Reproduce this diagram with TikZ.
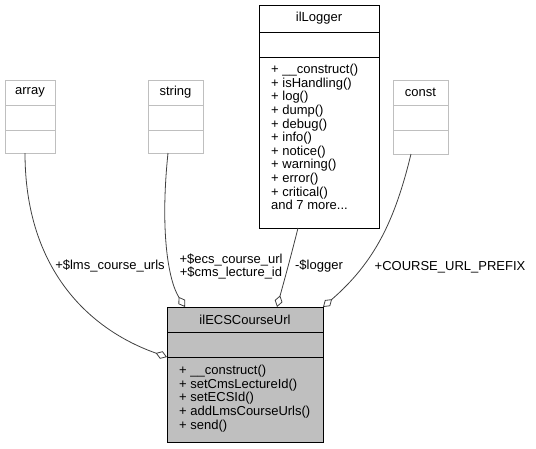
\documentclass[tikz,border=0pt]{standalone}
\usepackage{fontspec}
\setmainfont{Liberation Sans}
\usetikzlibrary{arrows.meta}
\definecolor{boxgray}{HTML}{BFBFBF}
\definecolor{edgegray}{HTML}{404040}
\begin{document}
\begin{tikzpicture}[x=1pt,y=-1pt,
  every node/.style={font=\fontsize{13}{13.6}\selectfont, inner sep=0pt},
  lightbox/.style={draw=boxgray, line width=1pt, anchor=north west},
  darkbox/.style={draw=black, line width=1pt, anchor=north west},
  lightline/.style={draw=boxgray, line width=1pt},
  darkline/.style={draw=black, line width=1pt},
  assoc/.style={draw=edgegray, line width=0.8pt, -{Diamond[open, length=12pt, width=8pt, line width=0.8pt]}},
  members/.style={align=left, anchor=north west}]
\useasboundingbox (0,0) rectangle (536,448);

% array
\node[lightbox, minimum width=50pt, minimum height=73pt] (array) at (5,80) {};
\draw[lightline] (5,105) -- (55,105) (5,130) -- (55,130);
\node (arrayT) at (30,92) {array};

% string
\node[lightbox, minimum width=55pt, minimum height=73pt] (string) at (148,80) {};
\draw[lightline] (148,105) -- (203,105) (148,130) -- (203,130);
\node (stringT) at (175.5,92) {string};

% const
\node[lightbox, minimum width=55pt, minimum height=74pt] (const) at (393,80) {};
\draw[lightline] (393,105) -- (448,105) (393,130) -- (448,130);
\node (constT) at (420.5,92) {const};

% ilLogger
\node[darkbox, minimum width=120pt, minimum height=223pt] (logger) at (259,5) {};
\draw[darkline] (259,32) -- (379,32) (259,57) -- (379,57);
\node (loggerT) at (319,18.5) {ilLogger};
\node[members] (loggerM) at (271,64) {+ \_\_construct()\\+ isHandling()\\+ log()\\+ dump()\\+ debug()\\+ info()\\+ notice()\\+ warning()\\+ error()\\+ critical()\\and 7 more...};

% ilECSCourseUrl
\node[darkbox, fill=boxgray, minimum width=156pt, minimum height=135pt] (ecs) at (167,307) {};
\draw[darkline] (167,332) -- (323,332) (167,357) -- (323,357);
\node (ecsT) at (245,319.5) {ilECSCourseUrl};
\node[members] (ecsM) at (179,365) {+ \_\_construct()\\+ setCmsLectureId()\\+ setECSId()\\+ addLmsCourseUrls()\\+ send()};

% connector endpoints
\coordinate (arrayB) at (25,153);
\coordinate (stringB) at (168,153);
\coordinate (loggerB) at (298,228);
\coordinate (constB) at (411,154);
\coordinate (ecsA) at (167,357);
\coordinate (ecsS) at (185,307);
\coordinate (ecsL) at (277,307);
\coordinate (ecsC) at (323,307);

\draw[assoc] (arrayB) .. controls (25,270) and (90,330) .. (ecsA);
\draw[assoc] (stringB) .. controls (160,230) and (168,280) .. (ecsS);
\draw[assoc] (loggerB) .. controls (290,260) and (283,285) .. (ecsL);
\draw[assoc] (constB) .. controls (395,220) and (375,262) .. (ecsC);

% labels
\node (lab1) at (110,266) {+\$lms\_course\_urls};
\node[align=center] (lab2) at (231,266.5) {+\$ecs\_course\_url\\+\$cms\_lecture\_id};
\node (lab3) at (319,266) {-\$logger};
\node (lab4) at (450,267) {+COURSE\_URL\_PREFIX};
\end{tikzpicture}
\end{document}
